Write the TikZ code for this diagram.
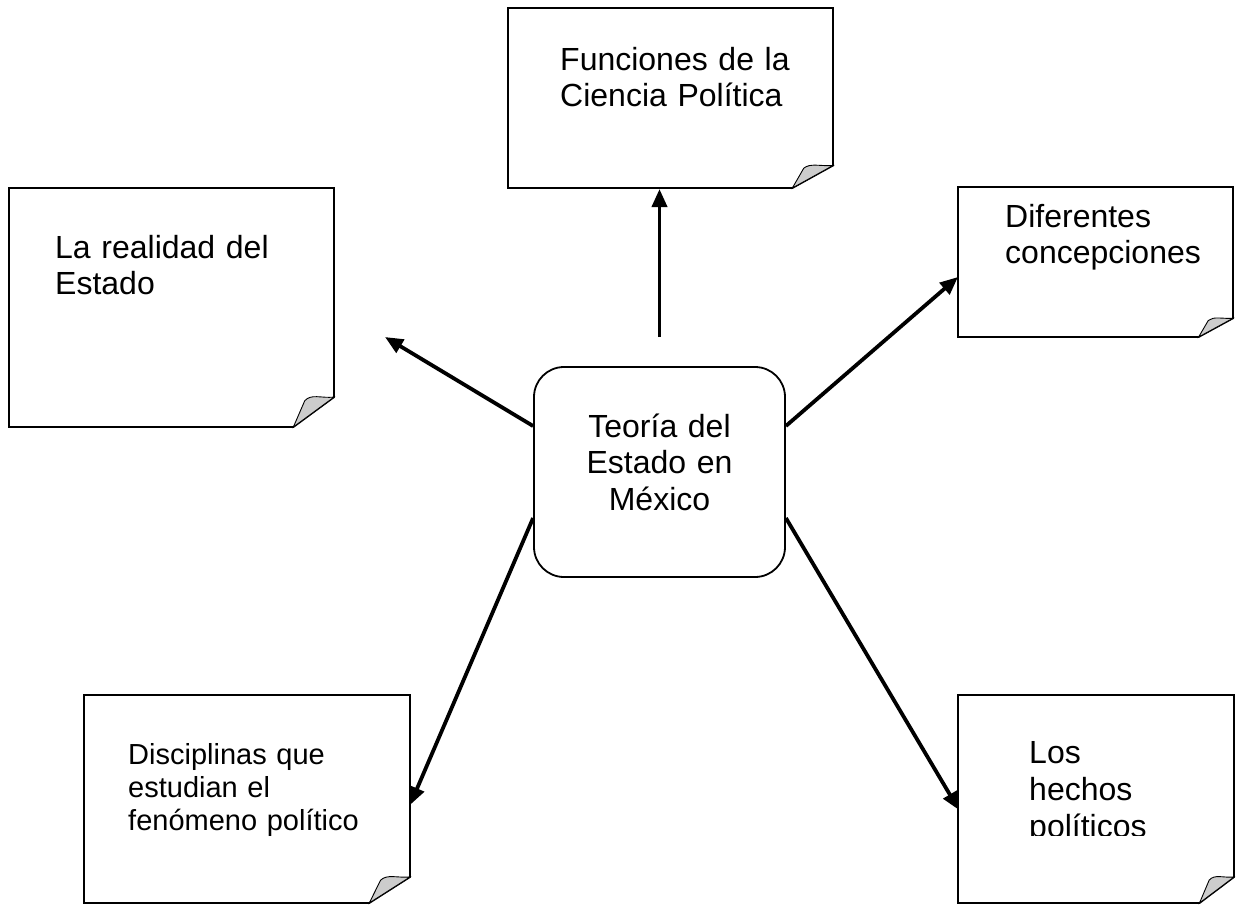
\documentclass[tikz,border=0pt]{standalone}
\usepackage{fontspec}
\setmainfont{Liberation Sans}
\usetikzlibrary{arrows.meta,calc}
\definecolor{foldgray}{RGB}{204,204,204}
\tikzset{
  boxline/.style={line width=1.8pt, line join=miter},
  foldline/.style={line width=0.9pt, fill=foldgray},
  arr/.style={line width=3.8pt, -{Triangle[length=18pt,width=15pt]}},
  lbl/.style={inner sep=0pt, anchor=base west, text width=320pt, align=left},
  big/.style={font=\fontsize{32}{36.5}\selectfont},
}
% name, left, top, right, bottom  (y measured downward)
\newcommand\foldbox[5]{%
  \node[inner sep=0pt, minimum width={(#4-#2)*1pt}, minimum height={(#5-#3)*1pt}] (#1) at ({(#2+#4)/2},{(#3+#5)/2}) {};
  \draw[boxline] (#2,#3) -- (#4,#3) -- (#4,{#5-0.125*(#5-#3)}) -- ({#4-0.125*(#4-#2)},#5) -- (#2,#5) -- cycle;
  \filldraw[foldline] ({#4-0.125*(#4-#2)},#5) -- ({#4-0.09*(#4-#2)},{#5-0.11*(#5-#3)})
     .. controls ({#4-0.07*(#4-#2)},{#5-0.14*(#5-#3)}) and ({#4-0.04*(#4-#2)},{#5-0.12*(#5-#3)}) .. (#4,{#5-0.125*(#5-#3)}) -- cycle;
}
\begin{document}
\begin{tikzpicture}[x=1pt,y=-1pt]
\useasboundingbox (0,0) rectangle (1236,905);

% paper boxes
\foldbox{F}{508}{8}{833}{188}
\foldbox{L}{9}{188}{334}{427}
\foldbox{D}{958}{187}{1233}{337}
\foldbox{B}{84}{695}{410}{903}
\foldbox{H}{958}{695}{1234}{903}

% central rounded box
\node[draw, line width=1.8pt, rounded corners=30pt, minimum width=251pt, minimum height=210pt, inner sep=0pt] (C) at (659.5,472) {};
\node[big, inner sep=0pt, anchor=base, text width=240pt, align=center] (Ct) at (659.5,437) {Teoría del\\Estado en\\México};

% texts
\node[lbl, big] (Ft) at (560,70) {Funciones de la\\Ciencia Política};
\node[lbl, big] (Lt) at (55,258) {La realidad del\\Estado};
\node[lbl, big] (Dt) at (1005,227) {Diferentes\\concepciones};
\node[lbl, font=\fontsize{29}{33}\selectfont] (Bt) at (128,764) {Disciplinas que\\estudian el\\fenómeno político};
\begin{scope}
  \clip (958,695) rectangle (1234,835);
  \node[lbl, font=\fontsize{32}{37}\selectfont] (Ht) at (1029,763) {Los\\hechos\\políticos};
\end{scope}

% connector ends
\coordinate (up0) at (659.5,337);
\coordinate (upE) at (659.5,189);
\coordinate (lE) at (385,337);
\coordinate (dE) at (958,277);
\coordinate (bE) at (410,805);
\coordinate (hE) at (959,810);

\draw[arr] (up0) -- (upE);
\draw[arr] (C.160) -- (lE);
\draw[arr] (C.20) -- (dE);
\draw[arr] (C.200) -- (bE);
\draw[arr] (C.340) -- (hE);
\end{tikzpicture}
\end{document}
